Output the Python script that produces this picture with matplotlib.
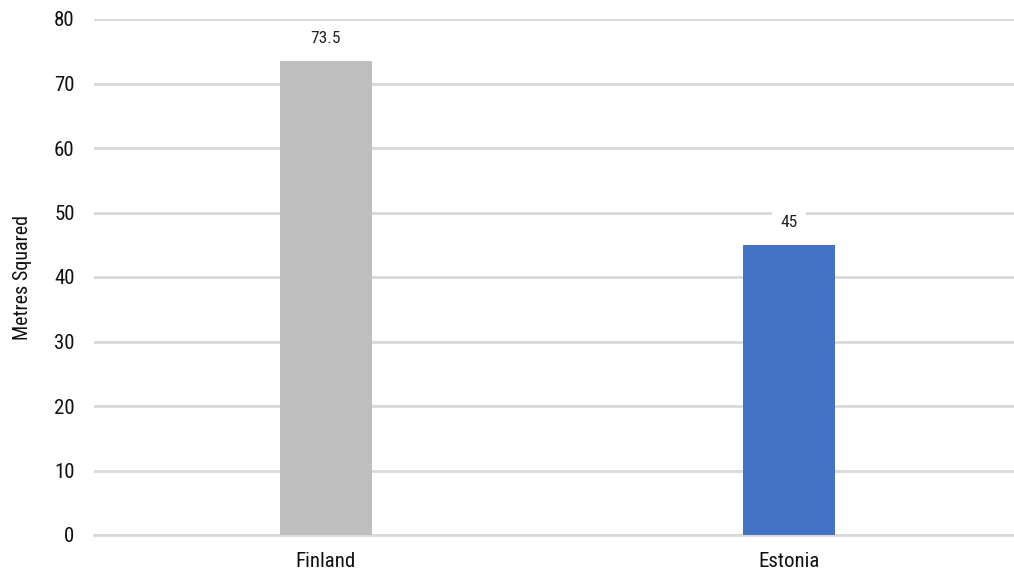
import matplotlib.pyplot as plt
from matplotlib import font_manager

countries = ["Finland", "Estonia"]
values = [73.5, 45]
value_labels = ["73.5", "45"]
colors = ["#bfbfbf", "#4472c4"]
yticks = [0, 10, 20, 30, 40, 50, 60, 70, 80]

names = {f.name for f in font_manager.fontManager.ttflist}
family = "Roboto Condensed" if "Roboto Condensed" in names else "Roboto"
plt.rcParams["font.family"] = [family, "DejaVu Sans"]

fig = plt.figure(figsize=(10.14, 5.73), dpi=100)
ax = fig.add_axes([94 / 1014, 38 / 573, 920 / 1014, 516 / 573])

x = range(len(countries))
ax.bar(x, values, width=0.2, color=colors, zorder=3)

for xi, v, lab in zip(x, values, value_labels):
    ax.text(xi, v + 3.5, lab, ha="center", va="center", fontsize=12.5, color="#222222",
            zorder=4, bbox=dict(facecolor="white", edgecolor="none", pad=6))

ax.set_xlim(-0.501, 1.486)
ax.set_ylim(0, 80)
ax.set_yticks(yticks)
ax.set_xticks(list(x))
ax.set_xticklabels(countries)
ax.tick_params(axis="both", length=0, labelsize=15, colors="#111111")
ax.tick_params(axis="y", pad=14)
ax.tick_params(axis="x", pad=12)
ax.yaxis.grid(True, color="#d9d9d9", linewidth=2, zorder=0)

for s in ["top", "right", "left"]:
    ax.spines[s].set_visible(False)
ax.spines["bottom"].set_color("#d9d9d9")
ax.spines["bottom"].set_linewidth(2)

ax.set_ylabel("Metres Squared", fontsize=14.5, color="#111111")
ax.yaxis.set_label_coords(-62 / 920, 0.5)

fig.savefig("out.png", dpi=100)
